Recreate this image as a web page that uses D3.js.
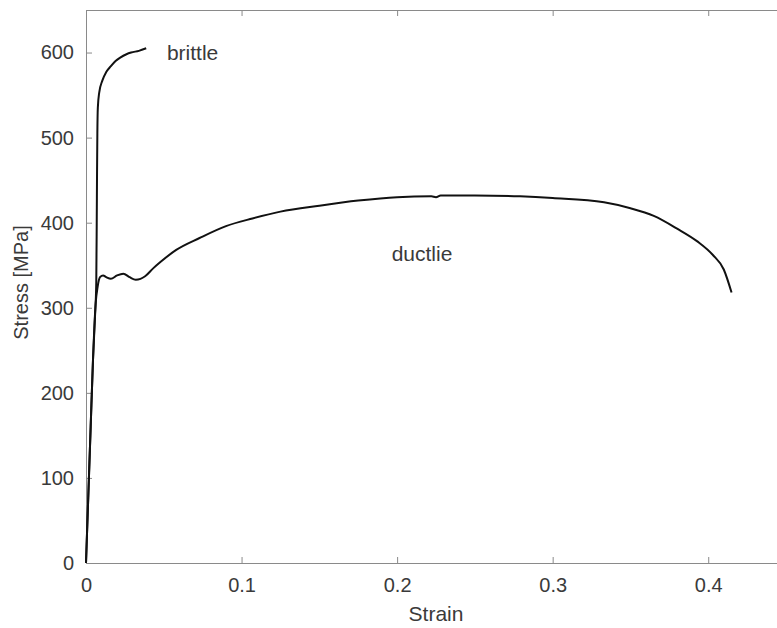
<!DOCTYPE html>
<meta charset="utf-8">
<style>
body { margin: 0; background: #fff; }
text { font-family: "Liberation Sans", Arial, sans-serif; fill: #3a3a3a; }
.axis path, .axis line { stroke: #8a8a8a; }
.curve { fill: none; stroke: #111; stroke-width: 2px; stroke-linejoin: round; }
</style>
<svg width="777" height="628"></svg>
<script src="https://d3js.org/d3.v7.min.js"></script>
<script>

// brittle specimen
var brittleStrain = [0, 0.0015, 0.003, 0.0045, 0.0058, 0.0066, 0.0069, 0.0071, 0.0073, 0.0076, 0.0085, 0.0105, 0.013, 0.016, 0.019, 0.022, 0.026, 0.029, 0.034, 0.0387];
var brittleStress = [0, 80, 160, 239, 290, 330, 400, 460, 505, 535, 553, 567, 577, 584, 590, 594, 598, 600, 602, 605];

// ductile specimen
var ductileStrain = [0, 0.0015, 0.003, 0.0045, 0.0062, 0.0075, 0.009, 0.011, 0.013, 0.016, 0.02, 0.024, 0.028, 0.032, 0.035, 0.038, 0.043, 0.048, 0.058, 0.073, 0.09, 0.107, 0.125, 0.15, 0.175, 0.2, 0.222, 0.225, 0.228, 0.25, 0.279, 0.3, 0.333, 0.35, 0.365, 0.38, 0.393, 0.403, 0.41, 0.415];
var ductileStress = [0, 80, 160, 239, 305, 325, 336, 338, 336, 334, 338, 340, 336, 333, 334, 337, 346, 354, 368, 382, 396, 405, 413, 420, 426, 430, 431, 430, 432, 432, 431, 429, 424, 417, 408, 393, 378, 362, 345, 318];

var xTicks = [0, 0.1, 0.2, 0.3, 0.4];
var yTicks = [0, 100, 200, 300, 400, 500, 600];

var svg = d3.select("svg"),
    margin = {left: 86, top: 10},
    w = 700,
    h = 553;

var x = d3.scaleLinear().domain([0, 0.45]).range([0, w]);
var y = d3.scaleLinear().domain([0, 650]).range([h, 0]);

var g = svg.append("g").attr("transform", "translate(" + margin.left + "," + margin.top + ")");

// box with inward ticks (matlab style)
g.append("g").attr("class", "axis")
    .attr("transform", "translate(0," + h + ")")
    .call(d3.axisBottom(x).tickValues(xTicks).tickSize(-6).tickPadding(15).tickSizeOuter(0)
        .tickFormat(function(d) { return d === 0 ? "0" : d3.format(".1f")(d); }));
g.append("g").attr("class", "axis")
    .call(d3.axisTop(x).tickValues(xTicks).tickSize(-6).tickSizeOuter(0).tickFormat(""));
g.append("g").attr("class", "axis")
    .call(d3.axisLeft(y).tickValues(yTicks).tickSize(-6).tickPadding(12).tickSizeOuter(0));
g.append("g").attr("class", "axis")
    .attr("transform", "translate(" + w + ",0)")
    .call(d3.axisRight(y).tickValues(yTicks).tickSize(-6).tickSizeOuter(0).tickFormat(""));

g.selectAll(".axis text").style("font-size", "20px").attr("fill", "#3a3a3a");

var line = d3.line()
    .x(function(d) { return x(d[0]); })
    .y(function(d) { return y(d[1]); })
    .curve(d3.curveMonotoneX);

var brittle = d3.zip(brittleStrain, brittleStress);
var ductile = d3.zip(ductileStrain, ductileStress);

g.append("path").attr("class", "curve").attr("d", line(ductile));
g.append("path").attr("class", "curve").attr("d", line(brittle));

g.append("text").attr("x", x(0.052)).attr("y", y(600) + 7)
    .style("font-size", "21px").text("brittle");
g.append("text").attr("x", x(0.1965)).attr("y", y(363) + 7)
    .style("font-size", "21px").text("ductlie");

g.append("text").attr("x", w / 2).attr("y", h + 58)
    .attr("text-anchor", "middle").style("font-size", "21px").text("Strain");
g.append("text").attr("transform", "translate(-58," + (h / 2 - 4) + ") rotate(-90)")
    .attr("text-anchor", "middle").style("font-size", "20px").text("Stress [MPa]");

</script>
